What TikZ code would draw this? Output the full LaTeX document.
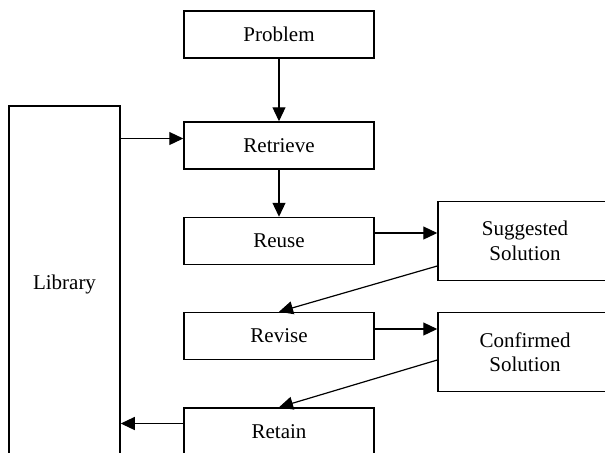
\documentclass[tikz,border=0pt]{standalone}
\usepackage{fontspec}
\setmainfont{Liberation Serif}
\usetikzlibrary{arrows.meta}
\begin{document}
\begin{tikzpicture}[x=0.5pt,y=-0.5pt,
	box/.style={draw, line width=0.75pt, minimum width=95pt, minimum height=23.5pt, inner sep=0pt, font=\fontsize{10.5}{12.3}\selectfont},
	sidebox/.style={box, minimum width=87pt, minimum height=39.5pt, align=center},
	arr/.style={-{Triangle[length=7pt,width=6.5pt]}, line width=0.6pt}]
	\useasboundingbox (0,0) rectangle (605,452);
	\clip (0,0) rectangle (605,452);
	\node[box] (problem) at (279,34.5) {Problem};
	\node[box] (retrieve) at (279,145.5) {Retrieve};
	\node[box] (reuse) at (279,241) {Reuse};
	\node[box] (revise) at (279,336) {Revise};
	\node[box] (retain) at (279,431.5) {Retain};
	\node[box, minimum width=55.5pt, minimum height=178pt] (library) at (64.5,284) {Library};
	\node[sidebox] (suggested) at (525,241) {Suggested\\Solution};
	\node[sidebox] (confirmed) at (525,352) {Confirmed\\Solution};
	\draw[arr] (problem) -- (retrieve);
	\draw[arr] (retrieve) -- (reuse);
	\draw[arr] ([yshift=3.5pt]retrieve.west -| library.east) -- ([yshift=3.5pt]retrieve.west);
	\draw[arr] ([yshift=4pt]reuse.east) -- ([yshift=4pt]reuse.east -| suggested.west);
	\draw[arr] ([yshift=-12.5pt]suggested.west) -- (revise.north);
	\draw[arr] ([yshift=3.5pt]revise.east) -- ([yshift=3.5pt]revise.east -| confirmed.west);
	\draw[arr] ([yshift=-4pt]confirmed.west) -- (retain.north);
	\draw[arr] ([yshift=4pt]retain.west) -- ([yshift=4pt]retain.west -| library.east);
\end{tikzpicture}
\end{document}
